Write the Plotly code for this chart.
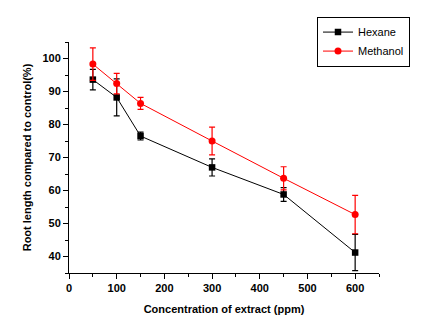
import plotly.graph_objects as go

conc = [50, 100, 150, 300, 450, 600]
hexane = [93.6, 88.2, 76.5, 67.0, 58.8, 41.2]
hexane_err = [3.1, 5.6, 1.2, 2.6, 2.1, 5.5]
methanol = [98.3, 92.4, 86.4, 75.0, 63.7, 52.7]
methanol_err = [4.9, 3.1, 1.8, 4.2, 3.5, 5.8]

fig = go.Figure()
fig.add_trace(go.Scatter(
    x=conc, y=hexane, name="Hexane", mode="lines+markers",
    line=dict(color="black", width=1),
    marker=dict(symbol="square", size=6.5, color="black"),
    error_y=dict(type="data", array=hexane_err, visible=True, color="black", thickness=1.2, width=3),
))
fig.add_trace(go.Scatter(
    x=conc, y=methanol, name="Methanol", mode="lines+markers",
    line=dict(color="red", width=1),
    marker=dict(symbol="circle", size=7, color="red"),
    error_y=dict(type="data", array=methanol_err, visible=True, color="red", thickness=1.2, width=3),
))

axis_font = dict(family="Liberation Sans, Arial", size=11, color="black")
fig.update_layout(
    width=426, height=326,
    margin=dict(l=69, r=47, t=42, b=51),
    paper_bgcolor="white", plot_bgcolor="white",
    font=axis_font,
    showlegend=True,
    legend=dict(x=0.8, y=1.11, xanchor="left", yanchor="top",
                bordercolor="black", borderwidth=1, bgcolor="white",
                font=dict(family="Liberation Sans, Arial", size=11, color="black"),
                tracegroupgap=0, itemwidth=30),
    xaxis=dict(range=[0, 650], tickvals=[0, 100, 200, 300, 400, 500, 600],
               showgrid=False, zeroline=False, showline=True, linecolor="black", linewidth=1,
               ticks="outside", ticklen=5, tickcolor="black",
               minor=dict(tickvals=[50, 150, 250, 350, 450, 550, 650], ticks="outside", ticklen=3, tickcolor="black"),
               tickfont=dict(family="Liberation Sans, Arial", size=11, color="black", weight="bold"),
               title=dict(text="<b>Concentration of extract (ppm)</b>", standoff=12,
                          font=dict(family="Liberation Sans, Arial", size=11, color="black"))),
    yaxis=dict(range=[35, 105], tickvals=[40, 50, 60, 70, 80, 90, 100],
               showgrid=False, zeroline=False, showline=True, linecolor="black", linewidth=1,
               ticks="outside", ticklen=5, tickcolor="black",
               minor=dict(tickvals=[35, 45, 55, 65, 75, 85, 95, 105], ticks="outside", ticklen=3, tickcolor="black"),
               tickfont=dict(family="Liberation Sans, Arial", size=11, color="black", weight="bold"),
               title=dict(text="<b>Root length compared to control(%)</b>", standoff=8,
                          font=dict(family="Liberation Sans, Arial", size=11, color="black"))),
)
fig.write_html("out.html")
